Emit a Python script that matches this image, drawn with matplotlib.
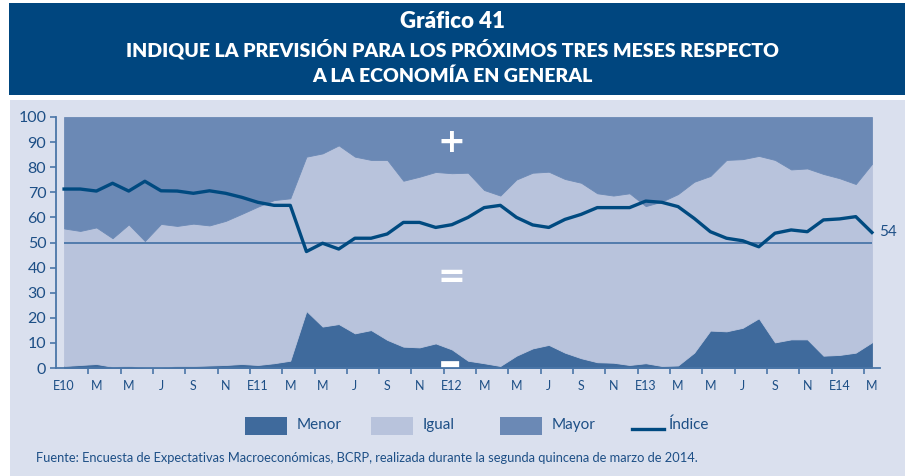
import numpy as np
import matplotlib.pyplot as plt
from matplotlib.patches import Rectangle
from matplotlib.lines import Line2D

# etiquetas bimestrales del eje horizontal (ene-2010 a mar-2014)
meses = ['E10', 'M', 'M', 'J', 'S', 'N',
         'E11', 'M', 'M', 'J', 'S', 'N',
         'E12', 'M', 'M', 'J', 'S', 'N',
         'E13', 'M', 'M', 'J', 'S', 'N',
         'E14', 'M']

# porcentaje de respuestas por mes
menor = [0.8, 1.2, 1.6, 0.5, 0.8, 0.2, 0.2, 0.8, 0.8, 1.0, 1.2,
         1.6, 1.2, 1.9, 2.9, 22.7, 16.5, 17.5, 13.8, 15.1, 11.2, 8.5,
         8.2, 9.8, 7.4, 2.9, 1.9, 0.8, 4.9, 7.8, 9.2, 6.1,
         3.9, 2.3, 2.1, 1.2, 1.9, 0.8, 1.0, 6.1, 14.9, 14.6, 16.0,
         19.8, 10.2, 11.4, 11.4, 4.9, 5.2, 6.1, 10.2]
igual = [54.8, 53.4, 54.4, 51.2, 56.4, 50.4, 57.2, 55.8, 56.7, 55.8, 57.4,
         59.8, 63.1, 65.0, 64.7, 61.5, 69.0, 71.2, 70.4, 67.8, 71.7, 66.1,
         68.0, 68.3, 70.2, 74.9, 69.0, 67.9, 70.2, 70.0, 69.0, 69.2,
         69.9, 67.3, 66.6, 68.4, 62.6, 65.5, 68.3, 68.1, 61.6, 68.3, 67.2,
         64.7, 72.7, 67.7, 68.1, 72.4, 70.4, 67.2, 71.1]
mayor = [44.4, 45.4, 44.0, 48.3, 42.8, 49.4, 42.6, 43.4, 42.5, 43.2, 41.4,
         38.6, 35.7, 33.1, 32.4, 15.8, 14.5, 11.3, 15.8, 17.1, 17.1, 25.4,
         23.8, 21.9, 22.4, 22.2, 29.1, 31.3, 24.9, 22.2, 21.8, 24.7,
         26.2, 30.4, 31.3, 30.4, 35.5, 33.7, 30.7, 25.8, 23.5, 17.1, 16.8,
         15.5, 17.1, 20.9, 20.5, 22.7, 24.4, 26.7, 18.7]
indice = [71.3, 71.3, 70.5, 73.6, 70.5, 74.4, 70.6, 70.5, 69.6, 70.6, 69.6,
          68.0, 66.0, 64.8, 64.8, 46.4, 49.7, 47.4, 51.7, 51.7, 53.4, 58.0,
          58.0, 56.0, 57.1, 60.0, 63.9, 64.8, 60.0, 57.0, 56.0, 59.2,
          61.2, 63.9, 63.9, 63.9, 66.5, 66.0, 64.3, 59.6, 54.3, 51.7, 50.7,
          48.3, 53.7, 55.0, 54.3, 59.0, 59.4, 60.3, 54.0]

c_banda = '#00467f'
c_fondo = '#dae0ee'
c_menor = '#3f6a9c'
c_igual = '#b8c3dc'
c_mayor = '#6b89b5'
c_linea = '#004a80'
c_texto = '#1d4f86'
c_eje = '#4a76a8'

fuente = 'Lato'

W, H = 905, 476
fig = plt.figure(figsize=(W / 100, H / 100), dpi=100)
fig.patch.set_facecolor('white')

# banda del título y panel de fondo
fig.add_artist(Rectangle((9 / W, 1 - 95 / H), 1, 92 / H, transform=fig.transFigure,
                         color=c_banda, lw=0, zorder=0))
fig.add_artist(Rectangle((10 / W, 0), 1, 1 - 100 / H, transform=fig.transFigure,
                         color=c_fondo, lw=0, zorder=0))

fig.text(0.5, 1 - 21 / H, 'Gráfico 41', ha='center', va='center', color='white',
         fontsize=16, fontweight='heavy', family=fuente)
fig.text(0.5, 1 - 49 / H, 'INDIQUE LA PREVISIÓN PARA LOS PRÓXIMOS TRES MESES RESPECTO',
         ha='center', va='center', color='white', fontsize=14, fontweight='heavy', family=fuente)
fig.text(0.5, 1 - 76 / H, 'A LA ECONOMÍA EN GENERAL',
         ha='center', va='center', color='white', fontsize=14, fontweight='heavy', family=fuente)

ax = fig.add_axes([56 / W, 1 - 368 / H, 824 / W, 251 / H])
ax.set_facecolor('none')

x = np.arange(len(menor))
base = np.zeros(len(x))
for serie, color in [(menor, c_menor), (igual, c_igual), (mayor, c_mayor)]:
    top = base + np.array(serie)
    ax.fill_between(x, base, top, color=color, lw=0.6, edgecolor=color, zorder=1)
    base = top

ax.hlines(50, x[0], x[-1], color=c_eje, lw=1.3, zorder=2)
ax.plot(x, indice, color=c_linea, lw=2.4, zorder=3)
ax.annotate(f'{indice[-1]:.0f}', xy=(x[-1], indice[-1]), xytext=(5, 0),
            textcoords='offset points', va='center', ha='left',
            color=c_texto, fontsize=11, family=fuente)

# signos sobre cada zona
ax.text(24, 90, '+', ha='center', va='center', color='white', fontsize=24, fontweight='bold')
ax.text(24, 36, '=', ha='center', va='center', color='white', fontsize=24, fontweight='bold')
ax.text(23.9, 1.0, '▬', ha='center', va='center', color='white', fontsize=17,
        style='italic', family='DejaVu Sans', clip_on=True)

ax.set_xlim(-0.5, 50.5)
ax.set_ylim(0, 100)
ax.set_yticks(range(0, 101, 10))
ax.set_xticks(np.arange(1.5, 50, 2))
ax.set_xticklabels([])
ax.set_xticks(np.arange(0, 51, 2), minor=True)
ax.set_xticklabels(meses, minor=True)

for s in ['top', 'right']:
    ax.spines[s].set_visible(False)
for s in ['left', 'bottom']:
    ax.spines[s].set_color(c_eje)
    ax.spines[s].set_linewidth(1.3)
ax.spines['bottom'].set_zorder(4)

ax.tick_params(axis='y', direction='out', length=4, width=1.2, color=c_eje,
               labelcolor=c_texto, labelsize=11.5, pad=3)
ax.tick_params(axis='x', which='major', direction='out', length=4, width=1.2, color=c_eje)
ax.tick_params(axis='x', which='minor', length=0, labelcolor=c_texto, labelsize=9, pad=9)
for lab in ax.get_yticklabels() + ax.get_xticklabels(minor=True):
    lab.set_family(fuente)

# leyenda
y0, y1 = 1 - 435 / H, 18 / H
for x0, color, nombre in [(245, c_menor, 'Menor'), (371, c_igual, 'Igual'), (500, c_mayor, 'Mayor')]:
    fig.add_artist(Rectangle((x0 / W, y0), 42 / W, y1, transform=fig.transFigure,
                             color=color, lw=0))
    fig.text((x0 + 52) / W, 1 - 425 / H, nombre, ha='left', va='center',
             color=c_texto, fontsize=11, family=fuente)
fig.add_artist(Line2D([632 / W, 664 / W], [1 - 429 / H, 1 - 429 / H],
                      transform=fig.transFigure, color=c_linea, lw=2.4))
fig.text(669 / W, 1 - 425 / H, 'Índice', ha='left', va='center',
         color=c_texto, fontsize=11, family=fuente)

fig.text(36 / W, 1 - 458 / H,
         'Fuente: Encuesta de Expectativas Macroeconómicas, BCRP, realizada durante '
         'la segunda quincena de marzo de 2014.',
         ha='left', va='center', color=c_texto, fontsize=9.3, family=fuente)

fig.savefig('out.png', dpi=100, facecolor=fig.get_facecolor())
